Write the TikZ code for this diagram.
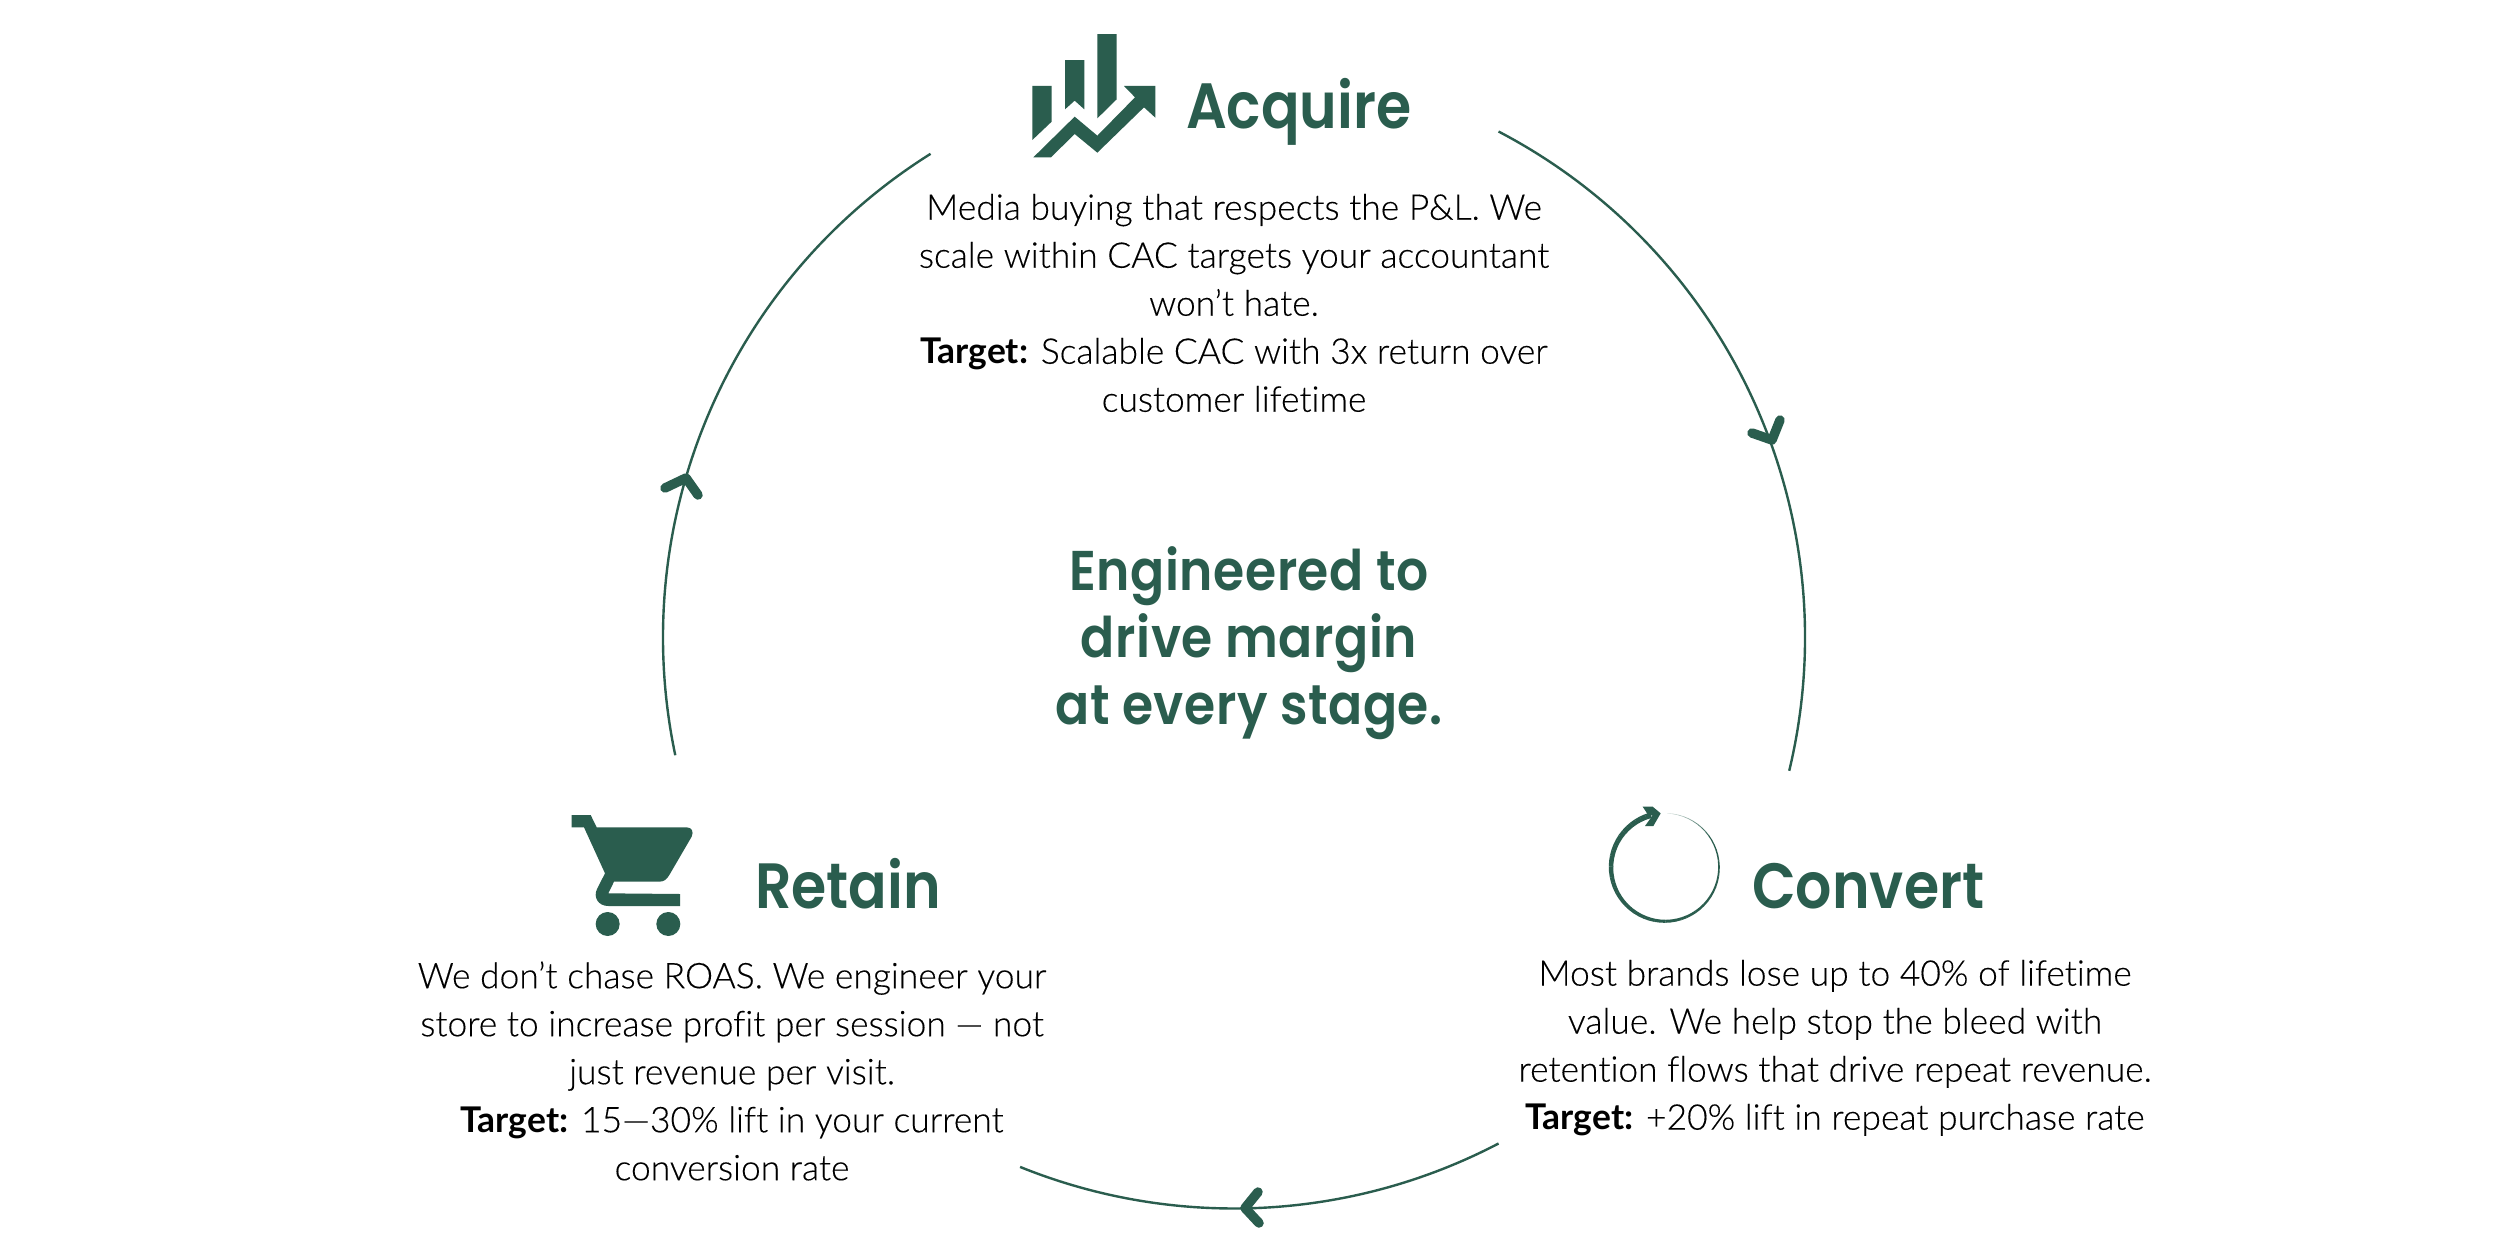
\documentclass[tikz,border=0pt]{standalone}
\usetikzlibrary{calc}
\usepackage{fontspec}
\setmainfont{Lato}[UprightFont=* Light,BoldFont=* Bold,Ligatures=NoCommon,UprightFeatures={FakeBold=0.25}]
\newfontfamily\headfont{Poppins}[UprightFont=* SemiBold,BoldFont=* Bold,FakeStretch=0.89]
\newfontfamily\titlefont{Poppins}[UprightFont=* SemiBold,FakeStretch=0.9,LetterSpace=1]
\definecolor{brandgreen}{HTML}{2A5D4E}
\tikzset{
  x=1pt,y=1pt,
  bodytext/.style={align=center,text=black,inner sep=0pt,font=\fontsize{35.4}{48}\selectfont},
  headtext/.style={anchor=base west,inner sep=0pt,text=brandgreen,font=\headfont\fontsize{64}{72}\selectfont},
  titletext/.style={align=center,inner sep=0pt,text=brandgreen,font=\titlefont\fontsize{56}{67}\selectfont},
  ringarc/.style={draw=brandgreen,line width=2.4pt},
  chevron/.style={draw=brandgreen,line width=9.5pt,line cap=round,line join=round},
  iconfill/.style={fill=brandgreen,draw=none},
  pxicon/.style={x=0.33333pt,y=-0.33333pt}
}
\begin{document}
\begin{tikzpicture}
\useasboundingbox (0,-1250) rectangle (2500,0);
\fill[white] (0,-1250) rectangle (2500,0);
\coordinate (c) at (1234,-637.5);
\def\R{571}
% ring
\coordinate (a1) at ($(c)+(62.4:\R)$);
\coordinate (a2) at ($(c)+(-62.4:\R)$);
\coordinate (a3) at ($(c)+(191.9:\R)$);
\draw[ringarc] (a1) arc[start angle=62.4,end angle=-13.5,radius=\R];
\draw[ringarc] (a2) arc[start angle=-62.4,end angle=-112,radius=\R];
\draw[ringarc] (a3) arc[start angle=191.9,end angle=122.1,radius=\R];
% chevrons
\coordinate (t1) at (1772,-440);
\coordinate (t2) at (1245,-1208);
\coordinate (t3) at (686,-478);
\draw[chevron] (1752,-433) -- (t1) -- (1780,-420);
\draw[chevron] (1258,-1192) -- (t2) -- (1259,-1223);
\draw[chevron] (665,-488) -- (t3) -- (698,-495);
% acquire icon
\begin{scope}[shift={(980,-10)},pxicon]
\fill[iconfill] (157,228)--(215,228)--(215,335)--(157,390)--cycle;
\fill[iconfill] (255,150)--(313,150)--(313,298)--(284,272)--(255,298)--cycle;
\fill[iconfill] (352,72)--(410,72)--(410,268)--(352,325)--cycle;
\fill[iconfill] (160,442)--(284,320)--(352,377)--(465,262)--(432,228)--(526,228)--(526,323)--(492,292)--(352,428)--(284,372)--(213,442)--cycle;
\end{scope}
% cart icon
\begin{scope}[shift={(540,-790)},pxicon]
\fill[iconfill] (95,75)--(152,75)--(170,112)--(440,112)
  .. controls (455,112) and (462,125) .. (455,140)
  --(388,255) .. controls (380,268) and (372,275) .. (358,275)
  --(222,275)--(205,310)--(420,312)--(420,348)--(205,348)
  .. controls (175,348) and (158,322) .. (172,295)
  --(195,250)--(132,112)--(95,112)--cycle;
\fill[iconfill] (203,402) circle[radius=36];
\fill[iconfill] (385,402) circle[radius=36];
\end{scope}
% convert icon
\coordinate (ci) at (1665,-867.3);
\foreach \i in {0,...,59}{
  \pgfmathsetmacro{\sa}{105+\i*5.7}
  \pgfmathsetmacro{\lw}{5.6-\i*0.09}
  \pgfmathsetmacro{\mix}{\i<50?100:100-(\i-50)*8}
  \draw[draw=brandgreen!\mix!white,line width=\lw pt]
    ($(ci)+(\sa:54)$) arc[start angle=\sa,end angle=\sa+5.9,radius=54];
}
\begin{scope}[shift={(1580,-780)},pxicon]
\fill[iconfill] (188,80)--(218,80)--(242,100)--(220,138)--(195,138)--(218,106)--(205,106)--cycle;
\end{scope}
% headings
\node[headtext] (acq) at (1186,-128) {Acquire};
\node[headtext] (ret) at (755,-908) {Retain};
\node[headtext] (con) at (1752,-908) {Convert};
% title
\node[titletext] (title) at (1249,-643) {Engineered to\\drive margin\hspace{14pt}\\at every stage.};
% bodies
\node[bodytext] (acqb) at (1234,-303) {Media buying that respects the P\&L. We\\scale within CAC targets your accountant\\won’t hate.\\\textbf{Target:} Scalable CAC with 3x return over\\customer lifetime};
\node[bodytext] (retb) at (732,-1071) {We don’t chase ROAS. We engineer your\\store to increase profit per session — not\\just revenue per visit.\\\textbf{Target:} 15—30\% lift in your current\\conversion rate};
\node[bodytext] (conb) at (1835,-1048) {Most brands lose up to 40\% of lifetime\\value. We help stop the bleed with\\retention flows that drive repeat revenue.\\\textbf{Target:} +20\% lift in repeat purchase rate};
\end{tikzpicture}
\end{document}
